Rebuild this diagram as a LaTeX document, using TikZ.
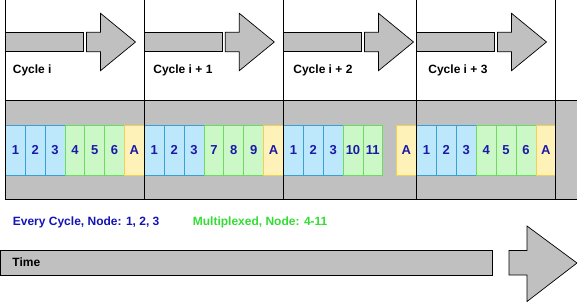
\documentclass[tikz,border=0pt]{standalone}
\usepackage{fontspec}
\setmainfont{Liberation Sans}
\definecolor{arrgray}{HTML}{C0C0C0}
\definecolor{cellblue}{HTML}{BDE7FA}
\definecolor{edgeblue}{HTML}{3A9FD5}
\definecolor{cellgreen}{HTML}{CCF7C6}
\definecolor{edgegreen}{HTML}{6CDC5E}
\definecolor{cellyellow}{HTML}{FFF2B8}
\definecolor{edgeyellow}{HTML}{F2CF55}
\definecolor{txtblue}{HTML}{1A1AA8}
\definecolor{capblue}{HTML}{1414B4}
\definecolor{capgreen}{HTML}{33DD33}
\begin{document}
\begin{tikzpicture}[x=1pt,y=-1pt,line width=0.8pt,
  cell/.style={draw,line width=0.8pt,minimum height=50pt,inner sep=0pt,outer sep=0pt,anchor=west,
    font=\bfseries\fontsize{13}{13}\selectfont,text=txtblue},
  bcell/.style={cell,fill=cellblue,draw=edgeblue},
  gcell/.style={cell,fill=cellgreen,draw=edgegreen},
  ycell/.style={cell,fill=cellyellow,draw=edgeyellow},
  lbl/.style={anchor=west,inner sep=0pt,font=\bfseries\fontsize{12}{12}\selectfont},
  block/.style={draw=black,fill=arrgray,line width=0.7pt}]
\clip (0,0) rectangle (577,302);
% gray band
\draw[block,line width=0.8pt] (5.5,100) rectangle (590,199);
% cells cycle i
\foreach \lab/\sty [count=\i from 0] in {1/bcell,2/bcell,3/bcell,4/gcell,5/gcell,6/gcell,A/ycell}
  \node[\sty,minimum width=19.86pt] (a\i) at ({5.5+\i*19.83},150) {\lab};
% cycle i+1
\foreach \lab/\sty [count=\i from 0] in {1/bcell,2/bcell,3/bcell,7/gcell,8/gcell,9/gcell,A/ycell}
  \node[\sty,minimum width=19.86pt] (b\i) at ({144.3+\i*19.89},150) {\lab};
% cycle i+2
\foreach \lab/\sty [count=\i from 0] in {1/bcell,2/bcell,3/bcell,10/gcell,11/gcell}
  \node[\sty,minimum width=19.86pt] (c\i) at ({283.5+\i*19.85},150) {\lab};
\node[ycell,minimum width=20.5pt] (c5) at (396,150) {A};
% cycle i+3
\foreach \lab/\sty [count=\i from 0] in {1/bcell,2/bcell,3/bcell,4/gcell,5/gcell,6/gcell,A/ycell}
  \node[\sty,minimum width=19.9pt] (d\i) at ({416.5+\i*19.9},150) {\lab};
% cycle separators
\foreach \x in {5.5,144.3,283.5,416.5,555.7}
  \draw[black] (\x,0) -- (\x,199);
\draw[black] (5.5,100) -- (577,100);
% top arrows
\foreach \x in {5.5,144.3,283.5,416.5}{
  \draw[block] (\x,32.3) rectangle ({\x+78},51.7);
  \draw[block] ({\x+81},32.3) -- ({\x+95},32.3) -- ({\x+95},13.3) -- ({\x+130},42) --
    ({\x+95},70.7) -- ({\x+95},51.7) -- ({\x+81},51.7) -- cycle;
}
% cycle labels
\node[lbl] (l1) at (12.5,70) {Cycle i};
\node[lbl] (l2) at (153,70) {Cycle i + 1};
\node[lbl] (l3) at (293,70) {Cycle i + 2};
\node[lbl] (l4) at (428,70) {Cycle i + 3};
% captions
\node[lbl,text=capblue] (cap1) at (12.5,222.5) {Every Cycle, Node: 1, 2, 3};
\node[lbl,text=capgreen] (cap2) at (192.5,222.5) {Multiplexed, Node: 4-11};
% time bar
\draw[block,line width=0.8pt] (0.6,250.5) rectangle (492,275);
\node[lbl] (time) at (12,262.5) {Time};
\draw[block] (509,250.5) -- (527,250.5) -- (527,226) -- (577,263) -- (527,301.5) --
  (527,275) -- (509,275) -- cycle;
\end{tikzpicture}
\end{document}
